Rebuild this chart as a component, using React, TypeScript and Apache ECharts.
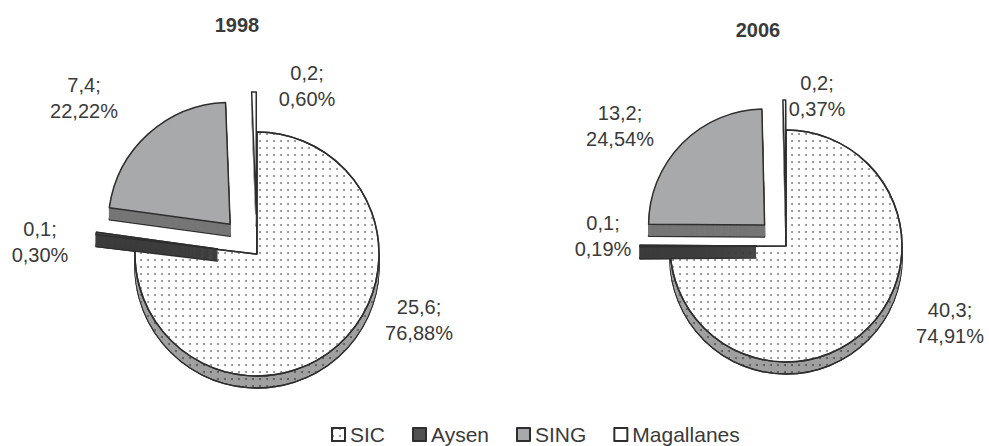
import { useEffect, useRef } from 'react';
import * as echarts from 'echarts';

// Installed capacity by grid system, two years
const years = ['1998', '2006'];
const categories = ['SIC', 'Aysen', 'SING', 'Magallanes'];
const values1998 = [25.6, 0.1, 7.4, 0.2];
const values2006 = [40.3, 0.1, 13.2, 0.2];
const exploded = [false, true, true, true];

// Layout for each pie (centre, radius, explode distance, title and label anchors)
const layouts = [
  {
    center: [257, 254],
    radius: 122,
    offset: 40,
    title: [237, 25],
    anchors: [[419, 320], [40, 242], [84, 98], [307, 86]],
  },
  {
    center: [786, 246],
    radius: 116,
    offset: 30,
    title: [758, 30],
    anchors: [[950, 323], [603, 236], [620, 126], [817, 96]],
  },
];

// Thickness of the extruded pie body, built from stacked 1px layers
const DEPTH = 12;
const FONT = '"Liberation Sans", Arial, Helvetica, sans-serif';
const TEXT = '#3a3a3a';
const EDGE = '#2e2e2e';
const CLEAR = 'rgba(0,0,0,0)';

const topColors = ['#ffffff', '#525252', '#a7a9ab', '#ffffff'];
const sideColors = ['#a0a0a0', '#3c3c3c', '#767676', '#cfcfcf'];

const dotsTop = {
  symbol: 'circle',
  symbolSize: 1,
  color: '#8a8a8a',
  dashArrayX: [1.4, 4.2],
  dashArrayY: [1.4, 4.2],
};
const dotsSide = { ...dotsTop, color: '#4a4a4a' };

const fmtNum = (v: number, d: number) => v.toFixed(d).replace('.', ',');

// One extruded pie: a top face plus body layers below it.
// `shown` picks which slices are painted; the rest stay transparent.
function buildStack(vals: number[], idx: number, tag: string, zBase: number, shown: boolean[]) {
  const lay = layouts[idx];
  const common = {
    type: 'pie',
    radius: lay.radius,
    selectedMode: 'multiple',
    selectedOffset: lay.offset,
    avoidLabelOverlap: false,
    emphasis: { disabled: true },
    animation: false,
    label: { show: false },
    labelLine: { show: false },
  };
  // kind: 'face' = outlined top, 'outline' = lowest body layer, 'fill' = inner body layer
  const itemFor = (i: number, fill: string, decal: any, kind: string) => {
    const vis = shown[i];
    let edge: any;
    if (!vis) edge = { borderColor: CLEAR, borderWidth: 0 };
    else if (kind !== 'fill') edge = { borderColor: EDGE, borderWidth: 1.5 };
    else if (i === 0) edge = { borderColor: CLEAR, borderWidth: 0 }; // keep the dotted side visible
    else edge = { borderColor: fill, borderWidth: 1 }; // thin slices need a stroke to stay solid
    return {
      name: categories[i],
      value: vals[i],
      selected: exploded[i],
      itemStyle: { color: vis ? fill : CLEAR, ...edge, ...(vis && i === 0 ? { decal } : {}) },
      select: { itemStyle: { ...edge } },
    };
  };

  const top = {
    ...common,
    name: `${years[idx]}${tag}`,
    center: lay.center,
    z: zBase,
    silent: tag !== '',
    data: categories.map((_, i) => itemFor(i, topColors[i], dotsTop, 'face')),
  };

  const layers: any[] = [];
  for (let d = 1; d <= DEPTH; d++) {
    const kind = d === DEPTH ? 'outline' : 'fill';
    layers.push({
      ...common,
      name: `${years[idx]}${tag}-body-${d}`,
      center: [lay.center[0], lay.center[1] + d],
      z: zBase - d,
      silent: true,
      legendHoverLink: false,
      data: categories.map((_, i) => itemFor(i, sideColors[i], dotsSide, kind)),
    });
  }
  return [top, ...layers];
}

// Value labels, carried by an invisible unexploded copy of the pie
function buildLabels(vals: number[], idx: number) {
  const lay = layouts[idx];
  const total = vals.reduce((a, b) => a + b, 0);
  return {
    type: 'pie',
    name: `${years[idx]}-labels`,
    center: lay.center,
    radius: lay.radius,
    z: 80,
    silent: true,
    legendHoverLink: false,
    selectedMode: false,
    avoidLabelOverlap: false,
    emphasis: { disabled: true },
    itemStyle: { color: CLEAR, borderWidth: 0 },
    labelLine: { show: false },
    label: {
      show: true,
      position: 'outside',
      fontSize: 20,
      lineHeight: 26,
      color: TEXT,
      fontFamily: FONT,
      formatter: (p: any) =>
        `${fmtNum(p.value, 1)};\n${fmtNum((p.value / total) * 100, 2)}%`,
    },
    labelLayout: (p: any) => ({
      x: lay.anchors[p.dataIndex][0],
      y: lay.anchors[p.dataIndex][1],
      align: 'center',
      verticalAlign: 'middle',
    }),
    data: categories.map((name, i) => ({ name, value: vals[i] })),
  };
}

export default function App() {
  const ref = useRef<HTMLDivElement>(null);
  useEffect(() => {
    if (!ref.current) return;
    const chart = echarts.init(ref.current, null, { renderer: 'svg' });
    const all = [true, true, true, true];
    const aysenOnly = [false, true, false, false];
    const series = [
      ...buildStack(values1998, 0, '', 30, all),
      ...buildStack(values2006, 1, '', 30, all),
      // the thin Aysen slab sits in front of the SIC face
      ...buildStack(values1998, 0, '-front', 60, aysenOnly),
      ...buildStack(values2006, 1, '-front', 60, aysenOnly),
      buildLabels(values1998, 0),
      buildLabels(values2006, 1),
    ];
    chart.setOption({
      animation: false,
      backgroundColor: '#ffffff',
      legend: {
        data: categories,
        left: 326,
        top: 419,
        icon: 'rect',
        itemWidth: 13,
        itemHeight: 13,
        itemGap: 27,
        selectedMode: false,
        itemStyle: { borderColor: EDGE, borderWidth: 2 },
        textStyle: { fontSize: 21, color: TEXT, fontFamily: FONT },
      },
      graphic: years.map((y, i) => ({
        type: 'text',
        x: layouts[i].title[0],
        y: layouts[i].title[1],
        style: {
          text: y,
          align: 'center',
          verticalAlign: 'middle',
          font: `bold 20px ${FONT}`,
          fill: TEXT,
        },
      })),
      series,
    });
    return () => chart.dispose();
  }, []);
  return (
    <div
      ref={ref}
      style={{ position: 'absolute', left: 0, top: 0, width: 989, height: 446, background: '#fff' }}
    />
  );
}
